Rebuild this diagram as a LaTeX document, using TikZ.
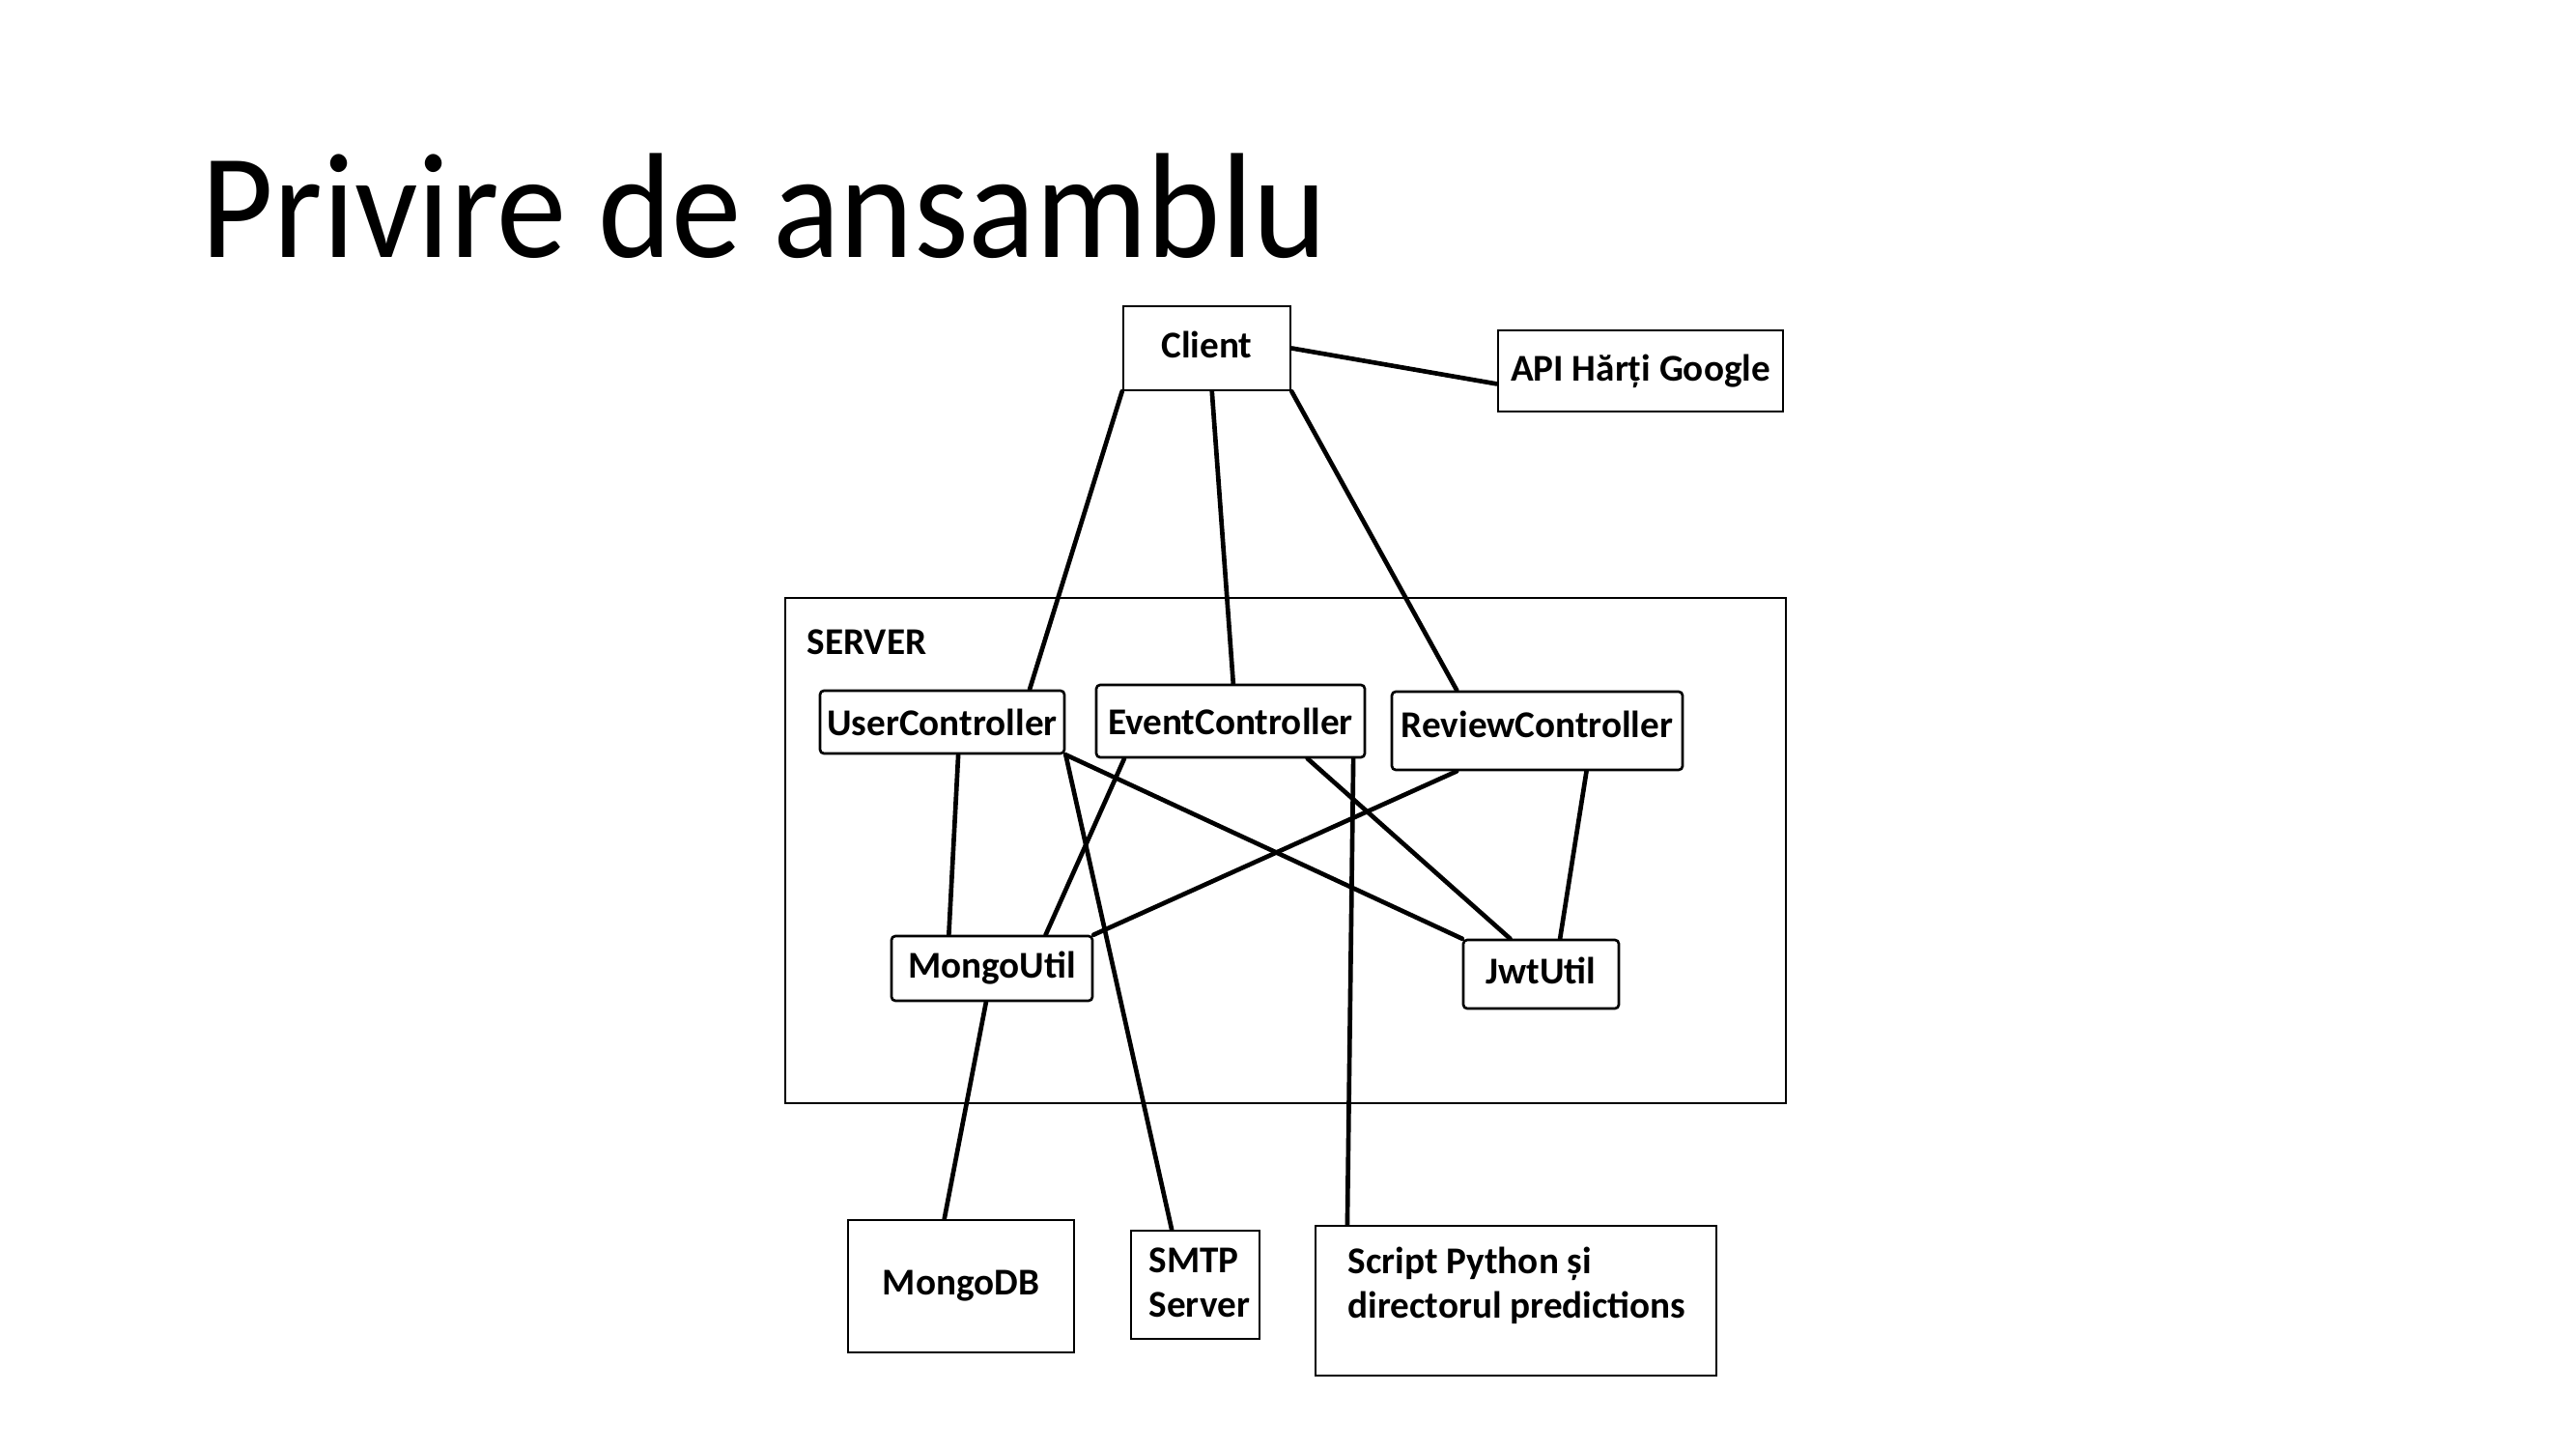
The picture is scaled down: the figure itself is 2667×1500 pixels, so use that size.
\documentclass[tikz,border=0pt]{standalone}
\usepackage{fontspec}
\setmainfont{Carlito}
\newfontfamily\titlefont[FakeStretch=0.935]{Carlito}
\usetikzlibrary{calc}
\newdimen\pxu \pxu=0.3pt
\tikzset{
  box/.style={draw=black, line width=0.8pt, inner sep=0pt, align=center,
    font=\bfseries\fontsize{11.75}{13.8}\selectfont},
  rbox/.style={box, rounded corners=1.2pt},
  lbl/.style={inner sep=0pt, align=left, font=\bfseries\fontsize{11.75}{13.8}\selectfont},
  link/.style={line width=1.4pt, line cap=round}
}
\begin{document}
\begin{tikzpicture}[x=0.3pt, y=-0.3pt]
\useasboundingbox (0,0) rectangle (2667,1500);
% title
\node[anchor=base west, inner sep=0pt, font=\titlefont\fontsize{46.5}{50}\selectfont] (title) at (208,267) {Privire de ansamblu};
% server frame
\node[draw=black, line width=0.8pt, minimum width=1036\pxu, minimum height=523\pxu, inner sep=0pt] (server) at (1331,880.5) {};
\node[lbl, anchor=base west] (serverlbl) at (835,678) {SERVER};
% nodes
\node[box, text depth=2pt, minimum width=173\pxu, minimum height=87\pxu] (client) at (1249.5,360.5) {Client};
\node[box, minimum width=295\pxu, minimum height=84\pxu] (api) at (1698.5,384) {API Hărți Google};
\node[rbox, minimum width=253\pxu, minimum height=65\pxu] (user) at (975.5,747.5) {UserController};
\node[rbox, minimum width=278\pxu, minimum height=75\pxu] (event) at (1274,746.5) {EventController};
\node[rbox, text depth=4.2pt, minimum width=301\pxu, minimum height=81\pxu] (review) at (1591.5,756.5) {ReviewController};
\node[rbox, minimum width=208\pxu, minimum height=67\pxu] (mongoutil) at (1027,1002.5) {MongoUtil};
\node[rbox, text depth=2pt, minimum width=161\pxu, minimum height=71\pxu] (jwt) at (1595.5,1008.5) {JwtUtil};
\node[box, minimum width=234\pxu, minimum height=137\pxu] (mongodb) at (995,1331.5) {MongoDB};
\node[box, minimum width=133\pxu, minimum height=112\pxu] (smtp) at (1237.5,1330) {};
\node[lbl, anchor=base west] (smtptext) at (1189,1363) {SMTP\\Server};
\node[box, minimum width=415\pxu, minimum height=155\pxu] (script) at (1569.5,1346.5) {};
\node[lbl, anchor=base west] (scripttext) at (1395,1364) {Script Python și\\directorul predictions};
% connectors
\draw[link] (client.south west) -- ($(user.north west)!0.854!(user.north east)$);
\draw[link] ($(client.south west)!0.53!(client.south east)$) -- ($(event.north west)!0.51!(event.north east)$);
\draw[link] (client.south east) -- ($(review.north west)!0.226!(review.north east)$);
\draw[link] (client.east) -- ($(api.north west)!0.655!(api.south west)$);
\draw[link] ($(user.south west)!0.565!(user.south east)$) -- ($(mongoutil.north west)!0.288!(mongoutil.north east)$);
\draw[link] (user.south east) -- ($(smtp.north west)!0.32!(smtp.north east)$);
\draw[link] (user.south east) -- (jwt.north west);
\draw[link] ($(event.south west)!0.108!(event.south east)$) -- ($(mongoutil.north west)!0.764!(mongoutil.north east)$);
\draw[link] ($(event.south west)!0.784!(event.south east)$) -- ($(jwt.north west)!0.304!(jwt.north east)$);
\draw[link] ($(event.south west)!0.953!(event.south east)$) -- ($(script.north west)!0.082!(script.north east)$);
\draw[link] ($(review.south west)!0.226!(review.south east)$) -- (mongoutil.north east);
\draw[link] ($(review.south west)!0.668!(review.south east)$) -- ($(jwt.north west)!0.62!(jwt.north east)$);
\draw[link] ($(mongoutil.south west)!0.471!(mongoutil.south east)$) -- ($(mongodb.north west)!0.427!(mongodb.north east)$);
\end{tikzpicture}
\end{document}
